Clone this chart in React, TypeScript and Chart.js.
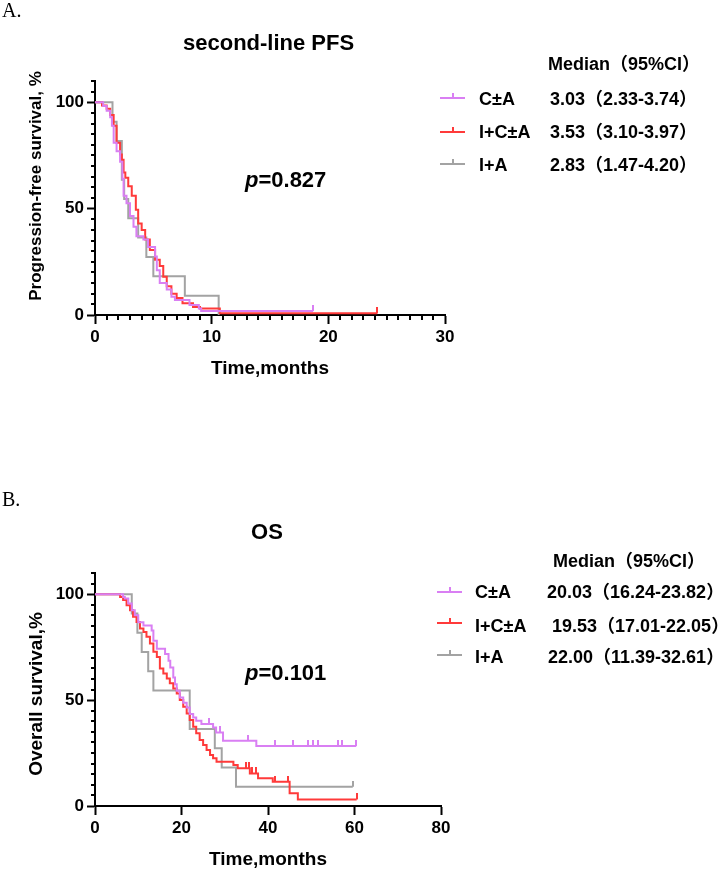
import React, { useEffect, useRef } from "react";
import { Chart, registerables } from "chart.js";

Chart.register(...registerables);

const SANS = '"Liberation Sans", Arial, "Noto Sans CJK SC", sans-serif';
const SERIF = '"Liberation Serif", "Times New Roman", serif';

const PURPLE = "#D97FF3";
const RED = "#FF3A3A";
const GRAY = "#A3A3A3";

// ---- Panel A: second-line progression-free survival (months, %) ----
const pfsTimeCA = [0, 0.7, 1.0, 1.3, 1.45, 1.6, 1.85, 2.15, 2.35, 2.45, 2.7, 3.0, 3.3, 3.55, 4.15, 4.55, 5.15, 5.3, 5.55, 6.15, 6.55, 6.85, 8.1, 8.9, 9.1];
const pfsSurvCA = [100, 98.3, 96, 93, 89, 81, 77, 72, 64, 56, 52.5, 46.5, 41.5, 37, 35.5, 32, 27.5, 21, 15, 12, 8.6, 7, 4.7, 3.1, 1.9];
const pfsEndCA = 18.7;
const pfsCensorCA = [18.7];

const pfsTimeICA = [0, 0.6, 1.0, 1.3, 1.6, 1.85, 2.15, 2.3, 2.45, 2.6, 2.85, 3.15, 3.5, 3.7, 4.0, 4.3, 4.7, 5.15, 5.55, 5.85, 6.15, 6.55, 7.0, 7.5, 8.4, 9.0, 10.7];
const pfsSurvICA = [100, 98.5, 97, 94, 89, 81, 75.5, 73, 67, 64.5, 60.5, 56, 49.5, 43, 40, 35.5, 30.5, 26, 23, 18, 13.5, 10, 8, 5.5, 3.8, 3.1, 0.8];
const pfsEndICA = 24.2;
const pfsCensorICA = [24.2];

const pfsTimeIA = [0, 1.5, 1.85, 2.3, 2.5, 2.85, 3.7, 4.4, 5.0, 7.7, 10.6];
const pfsSurvIA = [100, 90.9, 81.8, 63.6, 54.5, 45.5, 36.4, 27.3, 18.2, 9.1, 0];
const pfsEndIA = 10.6;
const pfsCensorIA: number[] = [];

// ---- Panel B: overall survival (months, %) ----
const osTimeCA = [0, 6.5, 6.9, 7.7, 8.5, 9.2, 10.0, 11.2, 13.1, 13.5, 14.3, 16.2, 17.0, 17.4, 18.1, 18.5, 18.9, 19.6, 20.4, 21.2, 21.9, 22.7, 23.4, 24.6, 27.3, 28.0, 29.6, 37.3];
const osSurvCA = [100, 98.7, 98, 95.6, 92.4, 90, 86.8, 85.2, 82.9, 78, 74.2, 71.8, 68.6, 65.4, 60.7, 57.5, 54.4, 51.2, 48.8, 46.5, 43.4, 41.8, 40.3, 38.7, 37.1, 34.7, 30.8, 28.3];
const osEndCA = 60.4;
const osCensorCA = [26.3, 29.0, 35.4, 41.6, 45.8, 49.3, 50.4, 51.6, 56.2, 57.0, 60.4];

const osTimeICA = [0, 5.8, 6.5, 7.3, 8.1, 8.8, 9.6, 10.4, 11.2, 11.9, 12.7, 13.5, 14.3, 15.0, 15.8, 16.6, 17.3, 18.1, 18.9, 19.6, 20.4, 21.2, 21.9, 22.7, 23.4, 24.2, 25.0, 25.8, 26.6, 27.3, 28.1, 32.0, 33.0, 35.8, 37.7, 41.1, 45.0, 46.9];
const osSurvICA = [100, 98.7, 97.2, 94.8, 92.4, 89.3, 86.9, 83.8, 82.2, 79.9, 76.7, 72.8, 70.4, 64.9, 62.6, 60.2, 57.9, 55.5, 53.1, 50, 46.9, 43.7, 40.6, 37.4, 34.3, 31.1, 28.8, 26.4, 24.1, 22.5, 20.9, 19.3, 17.8, 15.4, 13.1, 11.5, 6.0, 3.1];
const osEndICA = 60.5;
const osCensorICA = [34.8, 35.6, 36.4, 37.2, 41.6, 44.6, 60.5];

const osTimeIA = [0, 8.5, 9.8, 10.8, 12.3, 13.5, 21.9, 27.7, 29.3, 32.6];
const osSurvIA = [100, 90.9, 81.8, 72.7, 63.6, 54.5, 36.4, 27.3, 18.2, 9.1];
const osEndIA = 59.6;
const osCensorIA = [59.6];

// ---- axes and legend text ----
const pfsXTicks = [0, 10, 20, 30];
const osXTicks = [0, 20, 40, 60, 80];
const yTicks = [0, 50, 100];
const groupLabels = ["C±A", "I+C±A", "I+A"];
const groupColors = [PURPLE, RED, GRAY];
const pfsMedians = ["3.03（2.33-3.74）", "3.53（3.10-3.97）", "2.83（1.47-4.20）"];
const osMedians = ["20.03（16.24-23.82）", "19.53（17.01-22.05）", "22.00（11.39-32.61）"];

type Curve = { times: number[]; surv: number[]; end: number; censor: number[]; color: string };

function survAt(c: Curve, t: number) {
  let s = c.surv[0];
  for (let i = 0; i < c.times.length; i++) if (c.times[i] <= t) s = c.surv[i];
  return s;
}

function stepPoints(c: Curve) {
  const pts = c.times.map((t, i) => ({ x: t, y: c.surv[i] }));
  const last = c.times[c.times.length - 1];
  if (c.end > last) pts.push({ x: c.end, y: c.surv[c.surv.length - 1] });
  return pts;
}

// upward censor tick: the image is centred on the point, so only its top half is painted
function censorMark(color: string) {
  const cv = document.createElement("canvas");
  cv.width = 2;
  cv.height = 12;
  const g = cv.getContext("2d")!;
  g.fillStyle = color;
  g.fillRect(0, 0, 2, 6);
  return cv;
}

type PanelCfg = {
  height: number;
  padding: { left: number; right: number; top: number; bottom: number };
  yWidth: number;
  xHeight: number;
  xMax: number;
  xTicks: number[];
  xMinor: number;
  curves: Curve[];
  letter: { text: string; y: number };
  title: { text: string; x: number; y: number; align: CanvasTextAlign };
  pValue: { text: string; x: number; y: number };
  header: { x: number; y: number };
  rows: { x0: number; x1: number; markY: number[]; labelX: number; valueX: number[]; baseY: number[] };
  medians: string[];
  xTitle: { text: string; x: number; y: number };
  yTitle: { text: string; x: number; y: number; size: number };
};

function makeOverlay(cfg: PanelCfg) {
  return {
    id: "kmOverlay",
    afterDraw(chart: any) {
      const ctx: CanvasRenderingContext2D = chart.ctx;
      const xs = chart.scales.x;
      const ys = chart.scales.y;
      const area = chart.chartArea;
      ctx.save();

      // minor tick marks
      ctx.strokeStyle = "#000";
      ctx.lineWidth = 2;
      ctx.beginPath();
      if (cfg.xMinor > 0) {
        for (let i = 0; i * cfg.xMinor <= cfg.xMax + 1e-9; i++) {
          const v = i * cfg.xMinor;
          if (cfg.xTicks.includes(v)) continue;
          const px = Math.round(xs.getPixelForValue(v));
          ctx.moveTo(px, area.bottom);
          ctx.lineTo(px, area.bottom + 5);
        }
      }
      for (let v = 0; v <= 110; v += 5) {
        if (yTicks.includes(v)) continue;
        const py = Math.round(ys.getPixelForValue(v));
        ctx.moveTo(area.left, py);
        ctx.lineTo(area.left - 4, py);
      }
      ctx.stroke();

      ctx.fillStyle = "#000";
      ctx.textBaseline = "alphabetic";

      // panel letter
      ctx.font = `20px ${SERIF}`;
      ctx.textAlign = "left";
      ctx.fillText(cfg.letter.text, 2, cfg.letter.y);

      // title
      ctx.font = `bold 22px ${SANS}`;
      ctx.textAlign = cfg.title.align;
      ctx.fillText(cfg.title.text, cfg.title.x, cfg.title.y);

      // p value
      ctx.textAlign = "left";
      ctx.font = `italic bold 22px ${SANS}`;
      ctx.fillText("p", cfg.pValue.x, cfg.pValue.y);
      const pw = ctx.measureText("p").width;
      ctx.font = `bold 22px ${SANS}`;
      ctx.fillText("=" + cfg.pValue.text, cfg.pValue.x + pw, cfg.pValue.y);

      // legend with medians
      ctx.font = `bold 18px ${SANS}`;
      ctx.fillText("Median（95%CI）", cfg.header.x, cfg.header.y);
      const r = cfg.rows;
      cfg.curves.forEach((c, i) => {
        const my = r.markY[i];
        ctx.strokeStyle = c.color;
        ctx.lineWidth = 2;
        ctx.beginPath();
        ctx.moveTo(r.x0, my);
        ctx.lineTo(r.x1, my);
        const mid = Math.round((r.x0 + r.x1) / 2);
        ctx.moveTo(mid, my);
        ctx.lineTo(mid, my - 5);
        ctx.stroke();
        ctx.fillStyle = "#000";
        ctx.fillText(groupLabels[i], r.labelX, r.baseY[i]);
        ctx.fillText(cfg.medians[i], r.valueX[i], r.baseY[i]);
      });

      // axis titles
      ctx.font = `bold 19px ${SANS}`;
      ctx.textAlign = "center";
      ctx.fillText(cfg.xTitle.text, cfg.xTitle.x, cfg.xTitle.y);
      ctx.save();
      ctx.translate(cfg.yTitle.x, cfg.yTitle.y);
      ctx.rotate(-Math.PI / 2);
      ctx.textBaseline = "middle";
      ctx.font = `bold ${cfg.yTitle.size}px ${SANS}`;
      ctx.fillText(cfg.yTitle.text, 0, 0);
      ctx.restore();

      ctx.restore();
    },
  };
}

function KMPanel({ cfg }: { cfg: PanelCfg }) {
  const ref = useRef<HTMLCanvasElement | null>(null);
  useEffect(() => {
    if (!ref.current) return;
    const datasets: any[] = [];
    cfg.curves.forEach((c) => {
      datasets.push({
        type: "line",
        data: stepPoints(c),
        borderColor: c.color,
        borderWidth: 2,
        stepped: "before",
        pointRadius: 0,
        fill: false,
        clip: false,
      });
      if (c.censor.length) {
        datasets.push({
          type: "line",
          data: c.censor.map((t) => ({ x: t, y: survAt(c, t) })),
          showLine: false,
          pointStyle: censorMark(c.color),
          pointRadius: 4,
          borderColor: c.color,
          backgroundColor: c.color,
          clip: false,
        });
      }
    });
    const tickFont = { family: SANS, size: 17, weight: "bold" as const };
    const chart = new Chart(ref.current, {
      type: "line",
      data: { datasets },
      plugins: [makeOverlay(cfg)],
      options: {
        animation: false,
        responsive: false,
        maintainAspectRatio: false,
        events: [],
        layout: { padding: cfg.padding },
        plugins: {
          legend: { display: false },
          tooltip: { enabled: false },
          title: { display: false },
        },
        scales: {
          x: {
            type: "linear",
            min: 0,
            max: cfg.xMax,
            afterBuildTicks: (s: any) => {
              s.ticks = cfg.xTicks.map((v) => ({ value: v }));
            },
            afterFit: (s: any) => {
              s.height = cfg.xHeight;
            },
            border: { display: true, color: "#000", width: 2 },
            grid: { display: true, drawOnChartArea: false, drawTicks: true, tickLength: 9, tickColor: "#000", tickWidth: 2 },
            ticks: { color: "#000", font: tickFont, padding: 3, maxRotation: 0, autoSkip: false },
          },
          y: {
            type: "linear",
            min: 0,
            max: 110,
            afterBuildTicks: (s: any) => {
              s.ticks = yTicks.map((v) => ({ value: v }));
            },
            afterFit: (s: any) => {
              s.width = cfg.yWidth;
            },
            border: { display: true, color: "#000", width: 2 },
            grid: { display: true, drawOnChartArea: false, drawTicks: true, tickLength: 8, tickColor: "#000", tickWidth: 2 },
            ticks: { color: "#000", font: tickFont, padding: 3, autoSkip: false },
          },
        },
      } as any,
    });
    return () => chart.destroy();
  }, [cfg]);
  return <canvas ref={ref} width={718} height={cfg.height} style={{ display: "block" }} />;
}

const pfsCurves: Curve[] = [
  { times: pfsTimeCA, surv: pfsSurvCA, end: pfsEndCA, censor: pfsCensorCA, color: groupColors[0] },
  { times: pfsTimeICA, surv: pfsSurvICA, end: pfsEndICA, censor: pfsCensorICA, color: groupColors[1] },
  { times: pfsTimeIA, surv: pfsSurvIA, end: pfsEndIA, censor: pfsCensorIA, color: groupColors[2] },
];
const osCurves: Curve[] = [
  { times: osTimeCA, surv: osSurvCA, end: osEndCA, censor: osCensorCA, color: groupColors[0] },
  { times: osTimeICA, surv: osSurvICA, end: osEndICA, censor: osCensorICA, color: groupColors[1] },
  { times: osTimeIA, surv: osSurvIA, end: osEndIA, censor: osCensorIA, color: groupColors[2] },
];

const panelA: PanelCfg = {
  height: 492,
  padding: { left: 50, right: 273, top: 81, bottom: 147 },
  yWidth: 45,
  xHeight: 30,
  xMax: 30,
  xTicks: pfsXTicks,
  xMinor: 1,
  curves: pfsCurves,
  letter: { text: "A.", y: 17 },
  title: { text: "second-line PFS", x: 183, y: 50, align: "left" },
  pValue: { text: "0.827", x: 245, y: 187 },
  header: { x: 548, y: 70 },
  rows: { x0: 440, x1: 465, markY: [98, 132, 164], labelX: 479, valueX: [550, 550, 550], baseY: [105, 138, 171] },
  medians: pfsMedians,
  xTitle: { text: "Time,months", x: 270, y: 374 },
  yTitle: { text: "Progression-free survival, %", x: 36, y: 186, size: 17 },
};

const panelB: PanelCfg = {
  height: 377,
  padding: { left: 50, right: 277, top: 81, bottom: 33 },
  yWidth: 45,
  xHeight: 30,
  xMax: 80,
  xTicks: osXTicks,
  xMinor: 0,
  curves: osCurves,
  letter: { text: "B.", y: 14 },
  title: { text: "OS", x: 267, y: 47, align: "center" },
  pValue: { text: "0.101", x: 245, y: 188 },
  header: { x: 553, y: 75 },
  rows: { x0: 437, x1: 462, markY: [100, 131, 163], labelX: 475, valueX: [547, 552, 548], baseY: [106, 140, 171] },
  medians: osMedians,
  xTitle: { text: "Time,months", x: 268, y: 373 },
  yTitle: { text: "Overall survival,%", x: 37, y: 202, size: 19 },
};

export default function App() {
  return (
    <div style={{ position: "absolute", left: 0, top: 0, width: 718, height: 869, background: "#fff" }}>
      <KMPanel cfg={panelA} />
      <KMPanel cfg={panelB} />
    </div>
  );
}
